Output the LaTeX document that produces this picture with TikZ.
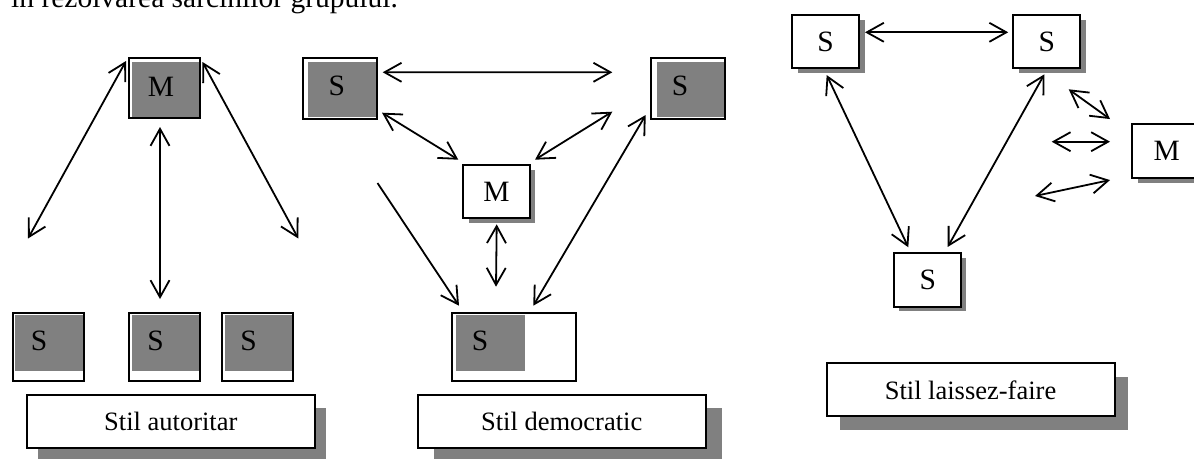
\documentclass[tikz,border=0pt]{standalone}
\usepackage{fontspec}
\setmainfont{Liberation Serif}
\usetikzlibrary{arrows.meta,shadows}
\definecolor{boxgray}{RGB}{128,128,128}
\tikzset{
	frame/.style={draw, line width=2pt, inner sep=0pt},
	wbox/.style 2 args={frame, fill=white, drop shadow={opacity=1, fill=boxgray, shadow xshift=#1, shadow yshift=-#2}},
	txt/.style={font=\fontsize{29.5}{34}\selectfont, inner sep=0pt},
	lbl/.style={font=\fontsize{26.5}{31}\selectfont, minimum width=288pt, minimum height=53.3pt},
	conn/.style={<->, line width=1.8pt}
}
\begin{document}
\begin{tikzpicture}[x=1pt, y=-1pt, >={Straight Barb[length=17pt,width=19pt]}]
			\useasboundingbox (0,0) rectangle (1194,458);
			\node[txt, anchor=base west] (intro) at (11,7) {în rezolvarea sarcinilor grupului.};
			% Stil autoritar
			\fill[boxgray] (132,61.7) rectangle (200.3,116.7);
			\fill[boxgray] (15,315) rectangle (83.3,370.7);
			\fill[boxgray] (132.3,315) rectangle (200.3,370.7);
			\fill[boxgray] (225,315) rectangle (293.3,370.7);
			\node[frame, minimum width=71.6pt, minimum height=60pt] (aM) at (164.5,88.3) {};
			\node[frame, minimum width=71.6pt, minimum height=67.7pt] (aS1) at (48.5,347.2) {};
			\node[frame, minimum width=71.6pt, minimum height=67.7pt] (aS2) at (164.5,347.2) {};
			\node[frame, minimum width=71.6pt, minimum height=67.7pt] (aS3) at (257.5,347.2) {};
			\node[txt] (aMt) at (161,87) {M};
			\node[txt] (aS1t) at (39,340.8) {S};
			\node[txt] (aS2t) at (155.5,340.8) {S};
			\node[txt] (aS3t) at (248.7,340.8) {S};
			\node[wbox={11pt}{13pt}, lbl] (aLabel) at (170.8,421.3) {Stil autoritar};
			\coordinate (aL) at (28,238.5);
			\coordinate (aR) at (298.3,238.5);
			\draw[conn] ([shift={(-1.7,3.7)}]aM.north west) -- (aL);
			\draw[conn] ([shift={(-4.5,7.7)}]aM.south) -- ([shift={(-4.5,-13.3)}]aS2.north);
			\draw[conn] ([shift={(1.2,4.7)}]aM.north east) -- (aR);
			% Stil democratic
			\fill[boxgray] (307.7,62.3) rectangle (376.3,116.7);
			\fill[boxgray] (656.7,62.3) rectangle (725,116.7);
			\fill[boxgray] (456,315) rectangle (525,370.7);
			\node[frame, minimum width=74.6pt, minimum height=60.7pt] (dL) at (340,88.65) {};
			\node[frame, minimum width=74pt, minimum height=60.7pt] (dR) at (688,88.65) {};
			\node[frame, minimum width=124.6pt, minimum height=67.7pt] (dB) at (514,347.15) {};
			\node[txt] (dLt) at (336.8,85.8) {S};
			\node[txt] (dRt) at (680,85.8) {S};
			\node[txt] (dBt) at (480,340.8) {S};
			\node[wbox={5.5pt}{5.3pt}, txt, minimum width=66.4pt, minimum height=53pt] (dM) at (496.5,191.5) {M};
			\node[wbox={16pt}{13pt}, lbl] (dLabel) at (561.7,421.3) {Stil democratic};
			\coordinate (dTop) at (612.3,72.3);
			\coordinate (dMid) at (612.3,111.7);
			\coordinate (dCut) at (377.5,183);
			\draw[conn] ([shift={(4.4,-16.35)}]dL.east) -- (dTop);
			\draw[conn] ([shift={(3.7,-7.3)}]dL.south east) -- ([shift={(-4,-4.3)}]dM.north west);
			\draw[conn] (dMid) -- ([shift={(4.3,-4.3)}]dM.north east);
			\draw[conn] ([shift={(0.2,5.3)}]dM.south) -- ([shift={(-18,-25.6)}]dB.north);
			\draw[->, line width=1.8pt] (dCut) -- ([shift={(8.3,-6.6)}]dB.north west);
			\draw[conn] ([shift={(19.3,-6.6)}]dB.north) -- ([shift={(-4.3,-5)}]dR.south west);
			% Stil laissez-faire
			\node[wbox={6pt}{5pt}, txt, minimum width=67pt, minimum height=52.7pt] (lL) at (825.5,41.7) {S};
			\node[wbox={6pt}{5pt}, txt, minimum width=67pt, minimum height=52.7pt] (lR) at (1046.7,41.7) {S};
			\node[wbox={6pt}{5.3pt}, txt, minimum width=68.8pt, minimum height=53.7pt] (lM) at (1166.7,151.2) {M};
			\node[wbox={4.4pt}{4.6pt}, txt, minimum width=67pt, minimum height=53.7pt] (lB) at (927.8,279.8) {S};
			\node[wbox={13.6pt}{13.4pt}, lbl] (lLabel) at (970.5,389.8) {Stil laissez-faire};
			\coordinate (lUp) at (1068.7,89.3);
			\coordinate (lMid) at (1051.7,141.7);
			\coordinate (lLow) at (1035,196);
			\draw[conn] ([shift={(5,-9.4)}]lL.east) -- ([shift={(-4,-9.4)}]lR.west);
			\draw[conn] ([shift={(1.2,6)}]lL.south) -- ([shift={(-19.5,-4.7)}]lB.north);
			\draw[conn] ([shift={(-2.4,5.3)}]lR.south) -- ([shift={(19.9,-5)}]lB.north);
			\draw[conn] (lUp) -- ([shift={(-21.3,-4.3)}]lM.north west);
			\draw[conn] (lMid) -- ([shift={(-21.3,-9.5)}]lM.west);
			\draw[conn] (lLow) -- ([shift={(-21.3,1)}]lM.south west);
\end{tikzpicture}
\end{document}
